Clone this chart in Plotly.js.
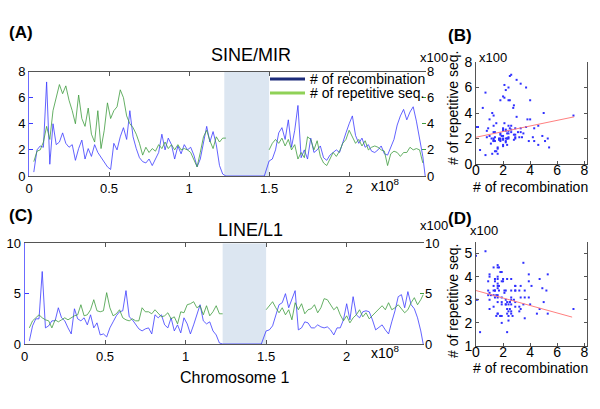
<!DOCTYPE html>
<html>
<head>
<meta charset="utf-8">
<script src="https://cdn.plot.ly/plotly-3.0.1.min.js"></script>
<style>html,body{margin:0;padding:0;background:#fff;}#chart{width:600px;height:409px;}</style>
</head>
<body>
<div id="chart"></div>
<script>
// Chromosome 1 bin positions (x10^8 bp)
const pos = [0.03,0.05,0.07,0.09,0.11,0.13,0.15,0.17,0.19,0.21,
0.23,0.25,0.27,0.29,0.31,0.33,0.35,0.37,0.39,0.41,
0.43,0.45,0.47,0.49,0.51,0.53,0.55,0.57,0.59,0.61,
0.63,0.65,0.67,0.69,0.71,0.73,0.75,0.77,0.79,0.81,
0.83,0.85,0.87,0.89,0.91,0.93,0.95,0.97,0.99,1.01,
1.03,1.05,1.07,1.09,1.11,1.13,1.15,1.17,1.19,1.21,
1.23,1.47,
1.50,1.52,1.54,1.56,1.58,1.60,1.62,1.64,1.66,1.68,
1.70,1.72,1.74,1.76,1.78,1.80,1.82,1.84,1.86,1.88,
1.90,1.92,1.94,1.96,1.98,2.00,2.02,2.04,2.06,2.08,
2.10,2.12,2.14,2.16,2.18,2.20,2.22,2.24,2.26,2.28,
2.30,2.32,2.34,2.36,2.38,2.40,2.42,2.44,2.46,
2.475];

// (A) SINE/MIR  (x100)
const recombA = [0.3,2.0,2.3,2.2,7.2,0.9,4.0,2.4,2.6,3.3,
2.5,2.2,2.4,1.2,2.1,2.75,1.3,2.1,1.5,2.4,
1.8,1.4,1.0,0.7,0.5,2.5,2.0,3.0,3.7,2.8,
5.0,3.0,2.1,1.4,1.1,1.0,1.3,0.8,1.3,1.8,
3.2,2.0,2.9,2.4,1.3,2.3,1.7,2.4,2.0,2.2,
1.6,0.7,1.3,2.6,3.8,2.6,3.4,2.4,0.8,0.15,
0,0,
1.15,1.3,2.0,3.3,3.7,2.8,4.3,2.2,3.5,5.4,
1.4,2.0,1.3,2.9,1.8,2.0,2.3,1.4,1.2,1.6,
1.8,2.0,1.8,2.6,3.3,4.0,4.6,3.1,2.5,2.9,
2.2,2.4,1.9,1.8,2.0,2.3,1.7,1.6,2.2,2.8,
3.9,4.6,5.1,4.3,4.9,5.3,4.2,2.9,1.5,
0];
const repeatA = [1.1,1.9,2.0,2.6,3.8,2.8,5.0,6.0,7.0,6.3,
6.9,5.8,5.0,4.0,6.2,4.4,3.8,5.2,3.2,2.6,
5.0,2.1,3.5,5.6,4.4,5.0,5.3,6.6,6.0,4.6,
4.0,3.7,3.2,2.5,1.6,2.2,1.8,2.1,1.9,2.4,
2.1,2.6,2.1,2.4,2.0,2.4,2.0,2.1,2.0,1.8,
1.2,0.7,1.8,3.0,3.5,2.7,2.1,3.0,2.6,2.9,
2.9,null,
2.0,2.5,2.8,2.5,2.9,2.3,2.8,2.0,2.4,1.3,
1.8,1.4,3.0,2.8,2.0,2.7,1.5,1.0,0.8,1.3,
1.8,1.5,1.9,2.5,2.8,3.5,3.0,2.5,2.8,2.3,
2.7,2.0,2.2,2.3,2.2,2.0,1.9,0.8,1.7,1.9,
1.8,1.5,1.8,1.8,2.2,2.0,2.1,2.0,1.0,
null];

// (C) LINE/L1  (x100)
const recombC = [0.3,1.8,2.5,2.5,7.2,1.6,1.8,2.3,2.3,3.6,
2.6,2.3,1.6,1.0,3.5,2.5,2.3,2.6,1.9,2.9,
1.6,2.1,0.9,1.0,0.7,1.6,2.2,2.8,3.2,3.3,
5.3,2.7,2.4,1.9,1.5,1.3,1.5,1.6,1.0,2.9,
2.6,2.9,1.9,1.6,2.6,1.3,1.9,1.1,2.6,2.0,
1.0,1.9,2.9,3.9,2.3,2.0,2.2,1.3,0.9,0.1,
0,0,
1.3,1.4,1.8,2.9,3.9,4.1,5.0,3.6,4.5,5.3,
1.4,1.6,2.2,2.1,1.6,1.6,1.9,1.7,1.6,1.7,
1.4,0.9,1.6,1.6,2.4,4.0,2.4,4.7,2.9,2.6,
3.2,3.3,3.2,2.4,1.4,1.7,1.9,1.4,1.0,2.2,
3.3,4.7,4.9,3.6,5.2,3.9,3.5,2.6,1.3,
0];
const repeatC = [1.6,2.3,2.6,2.9,2.6,2.4,2.3,1.6,2.4,2.2,
2.4,2.6,2.4,2.6,2.8,2.9,3.9,2.8,2.9,3.4,
4.4,3.3,3.2,3.3,5.1,3.6,2.8,3.0,3.4,2.6,
2.4,2.3,2.5,2.3,2.3,3.6,3.2,3.2,3.0,3.4,
3.0,2.7,2.8,3.1,2.5,2.7,2.0,3.2,3.1,3.9,
4.0,4.2,3.6,3.8,2.9,3.8,2.8,3.2,3.8,3.0,
3.0,null,
3.4,3.8,4.2,3.6,3.1,3.6,2.9,3.4,2.4,4.1,
3.4,4.0,3.0,3.4,3.5,3.9,3.1,3.6,4.5,4.4,
3.9,3.4,3.7,2.9,2.3,2.8,2.1,2.6,2.9,3.4,
2.7,3.1,2.5,2.8,3.1,3.4,3.8,3.4,4.1,3.4,
3.6,3.9,3.5,3.1,3.4,4.1,4.6,3.9,4.4,
4.9];

// centromere gap
const gapA = [1.22, 1.50];
const gapC = [1.23, 1.50];

// regression lines
const trendBx = [0, 7.25], trendBy = [2.1, 3.7];
const trendDx = [0, 7.1],  trendDy = [3.4, 2.25];

const xTicks = [0, 0.5, 1, 1.5, 2];
const xTickText = ['0', '0.5', '1', '1.5', '2'];

// ---------- build ----------
const X = p => p / 600;
const Y = p => 1 - p / 409;
const FONT = 'Liberation Sans, Arial, Helvetica, sans-serif';
const BLUE = '#3b3bff', GREEN = '#3f9c3f';

function pairs(a, b) {
  const xs = [], ys = [];
  for (let i = 0; i < a.length; i++) {
    if (a[i] != null && b[i] != null) { xs.push(a[i]); ys.push(b[i]); }
  }
  return [xs, ys];
}
const [sBx, sBy] = pairs(recombA, repeatA);
const [sDx, sDy] = pairs(recombC, repeatC);

const traces = [
  {x: pos, y: repeatA, xaxis: 'x', yaxis: 'y2', mode: 'lines', line: {color: GREEN, width: 0.8}},
  {x: pos, y: recombA, xaxis: 'x', yaxis: 'y', mode: 'lines', line: {color: BLUE, width: 0.8}},
  {x: pos, y: repeatC, xaxis: 'x2', yaxis: 'y4', mode: 'lines', line: {color: GREEN, width: 0.8}},
  {x: pos, y: recombC, xaxis: 'x2', yaxis: 'y3', mode: 'lines', line: {color: BLUE, width: 0.8}},
  {x: sBx, y: sBy, xaxis: 'x3', yaxis: 'y5', mode: 'markers', marker: {color: '#3030ff', size: 2, symbol: 'square'}},
  {x: trendBx, y: trendBy, xaxis: 'x3', yaxis: 'y5', mode: 'lines', line: {color: '#ff8080', width: 1}},
  {x: sDx, y: sDy, xaxis: 'x4', yaxis: 'y6', mode: 'markers', marker: {color: '#3030ff', size: 2, symbol: 'square'}},
  {x: trendDx, y: trendDy, xaxis: 'x4', yaxis: 'y6', mode: 'lines', line: {color: '#ff8080', width: 1}}
];

const tickFont = {family: FONT, size: 13, color: '#000'};
const lineX = (dom, anchor) => ({
  domain: dom, anchor: anchor, range: [0, 2.48], tickvals: xTicks, ticktext: xTickText,
  ticks: 'inside', ticklen: 4, tickcolor: '#555', showline: true, linecolor: '#555', linewidth: 1,
  mirror: 'ticks', showgrid: false, zeroline: false, tickfont: tickFont, fixedrange: true
});
const leftY = (dom, anchor, rng, tv) => ({
  domain: dom, anchor: anchor, range: rng, tickvals: tv, ticks: 'inside', ticklen: 4,
  tickcolor: BLUE, showline: true, linecolor: '#6b6bff', linewidth: 1, showgrid: false,
  zeroline: false, tickfont: tickFont
});
const rightY = (over, anchor, rng, tv) => ({
  overlaying: over, anchor: anchor, side: 'right', range: rng, tickvals: tv, ticks: 'inside',
  ticklen: 4, tickcolor: GREEN, showline: false, showgrid: false, zeroline: false, tickfont: tickFont
});
const scX = (dom, anchor) => ({
  domain: dom, anchor: anchor, range: [0, 8.2], tickvals: [0, 2, 4, 6, 8], ticks: 'inside', ticklen: 3,
  tickcolor: '#555', showline: true, linecolor: '#444', mirror: false, showgrid: false, zeroline: false,
  tickfont: {family: FONT, size: 14, color: '#000'}, ticklabelstandoff: -7
});
const scY = (dom, anchor, rng, tv) => ({
  domain: dom, anchor: anchor, range: rng, tickvals: tv, ticks: 'inside', ticklen: 3,
  tickcolor: '#555', showline: true, linecolor: '#555', mirror: 'ticks', showgrid: false, zeroline: false,
  tickfont: {family: FONT, size: 14, color: '#000'}
});

function ann(text, x, y, size, opts) {
  return Object.assign({text: text, xref: 'paper', yref: 'paper', x: X(x), y: Y(y),
    xanchor: 'center', yanchor: 'middle', showarrow: false,
    font: {family: FONT, size: size, color: '#000'}}, opts || {});
}

const layout = {
  width: 600, height: 409, margin: {l: 0, r: 0, t: 0, b: 0},
  paper_bgcolor: '#fff', plot_bgcolor: 'rgba(0,0,0,0)', showlegend: false,
  font: {family: FONT, size: 13, color: '#000'},
  xaxis: lineX([X(29), X(426)], 'y'),
  yaxis: leftY([Y(176), Y(71.5)], 'x', [0, 8], [0, 2, 4, 6, 8]),
  yaxis2: rightY('y', 'x', [0, 8], [0, 2, 4, 6, 8]),
  xaxis2: lineX([X(24.5), X(424)], 'y3'),
  yaxis3: leftY([Y(344), Y(243.3)], 'x2', [0, 10], [0, 5, 10]),
  yaxis4: rightY('y3', 'x2', [0, 10], [0, 5, 10]),
  xaxis3: scX([X(476), X(587)], 'y5'),
  yaxis5: scY([Y(164), Y(62)], 'x3', [0, 8], [0, 2, 4, 6, 8]),
  xaxis4: scX([X(476), X(587)], 'y6'),
  yaxis6: scY([Y(346), Y(242)], 'x4', [1, 5.5], [1, 2, 3, 4, 5]),
  shapes: [
    {type: 'rect', xref: 'x', yref: 'y', x0: gapA[0], x1: gapA[1], y0: 0, y1: 8, fillcolor: '#dce6f1', line: {width: 0}, layer: 'below'},
    {type: 'rect', xref: 'x2', yref: 'y3', x0: gapC[0], x1: gapC[1], y0: 0, y1: 10, fillcolor: '#dce6f1', line: {width: 0}, layer: 'below'},
    {type: 'line', xref: 'paper', yref: 'paper', x0: X(270), x1: X(305), y0: Y(79), y1: Y(79), line: {color: '#1c2b7a', width: 3}},
    {type: 'line', xref: 'paper', yref: 'paper', x0: X(270), x1: X(305), y0: Y(93), y1: Y(93), line: {color: '#8fd157', width: 3}}
  ],
  annotations: [
    ann('<b>(A)</b>', 21, 33, 17),
    ann('<b>(B)</b>', 460, 36, 17),
    ann('<b>(C)</b>', 21, 215, 17),
    ann('<b>(D)</b>', 460, 218, 17),
    ann('SINE/MIR', 251, 55, 18),
    ann('LINE/L1', 250, 230, 18),
    ann('x100', 418, 57, 13, {xanchor: 'left'}),
    ann('x100', 418, 225, 13, {xanchor: 'left'}),
    ann('x10<sup>8</sup>', 385, 185, 14),
    ann('x10<sup>8</sup>', 385, 352, 14),
    ann('Chromosome 1', 234, 377, 16),
    ann('# of recombination', 308, 79, 14, {xanchor: 'left'}),
    ann('# of repetitive seq.', 308, 93, 14, {xanchor: 'left'}),
    ann('x100', 477, 57, 13, {xanchor: 'left'}),
    ann('x100', 468, 230, 13, {xanchor: 'left'}),
    ann('# of repetitive seq.', 453, 108, 14, {textangle: -90}),
    ann('# of recombination', 530, 187, 14),
    ann('# of repetitive seq.', 453, 301, 14, {textangle: -90}),
    ann('# of recombination', 530, 368, 14)
  ]
};

Plotly.newPlot('chart', traces, layout, {staticPlot: true, displayModeBar: false});
</script>
</body>
</html>
